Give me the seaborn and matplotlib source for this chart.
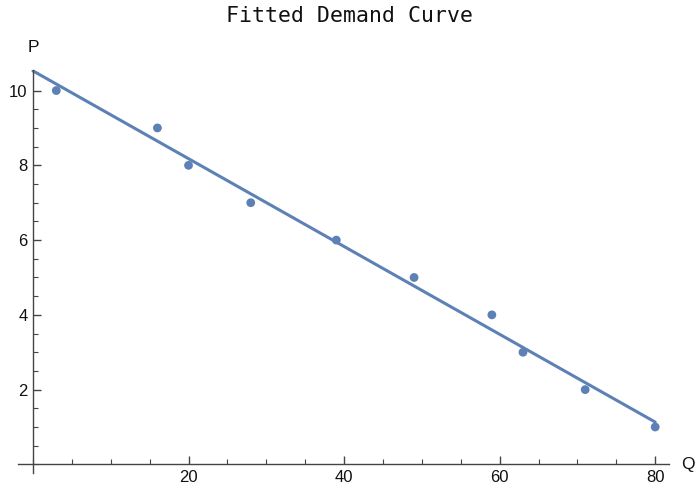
import numpy as np
import matplotlib
matplotlib.use("Agg")
import matplotlib.pyplot as plt
import seaborn as sns
import pandas as pd
from matplotlib.ticker import MultipleLocator

quantity = [3, 16, 20, 28, 39, 49, 59, 63, 71, 80]
price = [10, 9, 8, 7, 6, 5, 4, 3, 2, 1]
x_ticks = [20, 40, 60, 80]
y_ticks = [2, 4, 6, 8, 10]

sns.set_theme(style="white")
plt.rcParams['font.family'] = ['Liberation Sans', 'DejaVu Sans']

color = "#5E81B5"
df = pd.DataFrame({"Q": quantity, "P": price})
slope, intercept = np.polyfit(df["Q"], df["P"], 1)
line_df = pd.DataFrame({"Q": [0, max(quantity)]})
line_df["P"] = intercept + slope * line_df["Q"]

fig = plt.figure(figsize=(7, 4.93), dpi=100)
ax = fig.add_axes([0.026, 0.0406, 0.93, 0.8174])

sns.lineplot(data=line_df, x="Q", y="P", ax=ax, color=color, linewidth=2.2, zorder=2)
sns.scatterplot(data=df, x="Q", y="P", ax=ax, color=color, s=40, edgecolor="none", zorder=3)

ax.set_xlim(-1.9, 81.8)
ax.set_ylim(-0.23, 10.55)
ax.set_xlabel("")
ax.set_ylabel("")

for s in ["top", "right"]:
    ax.spines[s].set_visible(False)
ax.spines['left'].set_position(('data', 0))
ax.spines['bottom'].set_position(('data', 0))
for s in ["left", "bottom"]:
    ax.spines[s].set_color("#444444")
    ax.spines[s].set_linewidth(1.0)

ax.set_xticks(x_ticks)
ax.set_yticks(y_ticks)
ax.xaxis.set_minor_locator(MultipleLocator(5))
ax.yaxis.set_minor_locator(MultipleLocator(0.5))
ax.tick_params(axis='both', which='major', direction='in', length=6, width=1, color="#444444",
               labelsize=12, labelcolor="#111111", bottom=True, left=True, pad=4)
ax.tick_params(axis='both', which='minor', direction='in', length=3.5, width=0.8, color="#444444",
               bottom=True, left=True)

ax.text(0, 10.95, "P", ha="center", va="bottom", fontsize=12.5, color="#111111")
ax.text(84.2, 0, "Q", ha="center", va="center", fontsize=12.5, color="#111111", clip_on=False)

fig.suptitle("Fitted Demand Curve", fontsize=15.5, family="DejaVu Sans Mono", y=0.988, color="#111111")

fig.savefig("out.png", dpi=100)
